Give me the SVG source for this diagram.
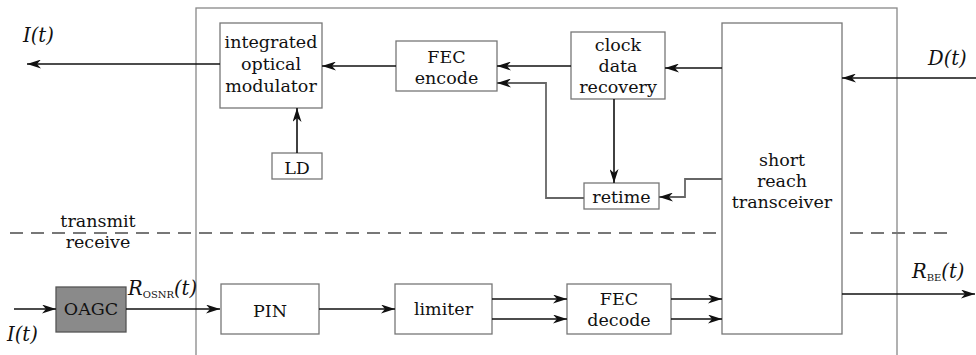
<svg xmlns="http://www.w3.org/2000/svg" width="976" height="355" viewBox="0 0 976 355">
  <style>
    .box { fill: #fff; stroke: #777; stroke-width: 1.3; }
    .frame { fill: none; stroke: #888; stroke-width: 1.3; }
    .wire { fill: none; stroke: #111; stroke-width: 1.6; }
    .wire-g { fill: none; stroke: #666; stroke-width: 1.8; }
    .lbl { font-family: "DejaVu Serif", "Liberation Serif", serif; font-size: 17.5px; fill: #111; text-anchor: middle; }
    .sig { font-family: "DejaVu Serif", "Liberation Serif", serif; font-style: italic; font-size: 19.5px; fill: #111; }
    .sub { font-family: "DejaVu Serif", "Liberation Serif", serif; font-size: 10px; fill: #111; font-style: normal; }
  </style>
  <defs>
    <marker id="ah" viewBox="0 0 14 9" refX="14" refY="4.5" markerWidth="14" markerHeight="9" orient="auto" markerUnits="userSpaceOnUse">
      <path d="M0,0 L14,4.5 L0,9 L4,4.5 z" fill="#111"/>
    </marker>
  </defs>

  <!-- module boundary -->
  <rect class="frame" x="196" y="8" width="701" height="360"/>

  <!-- transmit / receive split -->
  <line x1="10" y1="233" x2="948" y2="233" stroke="#777" stroke-width="2" stroke-dasharray="13,8"/>
  <text class="lbl" x="98" y="227">transmit</text>
  <text class="lbl" x="98" y="248">receive</text>

  <g id="modulator">
    <rect class="box" x="220" y="23" width="102" height="85"/>
    <text class="lbl" x="271" y="48">integrated</text>
    <text class="lbl" x="271" y="70">optical</text>
    <text class="lbl" x="271" y="92">modulator</text>
  </g>
  <g id="ld">
    <rect class="box" x="272" y="153" width="50" height="26"/>
    <text class="lbl" x="297" y="174">LD</text>
  </g>
  <g id="fec-encode">
    <rect class="box" x="396" y="41" width="101" height="50"/>
    <text class="lbl" x="446.5" y="63">FEC</text>
    <text class="lbl" x="446.5" y="84">encode</text>
  </g>
  <g id="cdr">
    <rect class="box" x="571" y="32" width="94" height="67"/>
    <text class="lbl" x="618" y="51">clock</text>
    <text class="lbl" x="618" y="72">data</text>
    <text class="lbl" x="618" y="93">recovery</text>
  </g>
  <g id="retime">
    <rect class="box" x="584" y="183" width="75" height="26"/>
    <text class="lbl" x="621.5" y="203">retime</text>
  </g>
  <g id="srt">
    <rect class="box" x="722" y="23" width="120" height="311"/>
    <text class="lbl" x="782" y="166">short</text>
    <text class="lbl" x="782" y="187">reach</text>
    <text class="lbl" x="782" y="208">transceiver</text>
  </g>
  <g id="oagc">
    <rect x="56" y="287" width="70" height="45" fill="#8a8a8a" stroke="#555" stroke-width="1.3"/>
    <text class="lbl" x="91" y="315">OAGC</text>
  </g>
  <g id="pin">
    <rect class="box" x="221" y="284" width="98" height="50"/>
    <text class="lbl" x="270" y="317">PIN</text>
  </g>
  <g id="limiter">
    <rect class="box" x="395" y="284" width="97" height="50"/>
    <text class="lbl" x="443.5" y="315">limiter</text>
  </g>
  <g id="fec-decode">
    <rect class="box" x="567" y="284" width="104" height="50"/>
    <text class="lbl" x="619" y="305">FEC</text>
    <text class="lbl" x="619" y="326">decode</text>
  </g>

  <g id="connectors">
    <path class="wire" d="M220,64 H27" marker-end="url(#ah)"/>
    <path class="wire" d="M396,66 H322" marker-end="url(#ah)"/>
    <path class="wire" d="M571,66 H497" marker-end="url(#ah)"/>
    <path class="wire" d="M722,68 H665" marker-end="url(#ah)"/>
    <path class="wire" d="M976,78 H842" marker-end="url(#ah)"/>
    <path class="wire" d="M297,153 V108" marker-end="url(#ah)"/>
    <path class="wire" d="M614,99 V183" marker-end="url(#ah)"/>
    <path class="wire-g" d="M584,198 H546 V83 H497" marker-end="url(#ah)"/>
    <path class="wire-g" d="M722,179 H685 V197 H659" marker-end="url(#ah)"/>
    <path class="wire" d="M14,309 H56" marker-end="url(#ah)"/>
    <path class="wire" d="M126,309 H220" marker-end="url(#ah)"/>
    <path class="wire" d="M319,309 H395" marker-end="url(#ah)"/>
    <path class="wire" d="M492,299 H567" marker-end="url(#ah)"/>
    <path class="wire" d="M492,319 H567" marker-end="url(#ah)"/>
    <path class="wire" d="M671,299 H722" marker-end="url(#ah)"/>
    <path class="wire" d="M671,319 H722" marker-end="url(#ah)"/>
    <path class="wire" d="M842,294 H975" marker-end="url(#ah)"/>
  </g>

  <!-- signal labels -->
  <text class="sig" x="23" y="42">I(t)</text>
  <text class="sig" x="7" y="341">I(t)</text>
  <text class="sig" x="928" y="65">D(t)</text>
  <text class="sig" x="128" y="295">R<tspan class="sub" dy="3">OSNR</tspan><tspan dy="-3">(t)</tspan></text>
  <text class="sig" x="912" y="278">R<tspan class="sub" dy="3">BE</tspan><tspan dy="-3">(t)</tspan></text>
</svg>
